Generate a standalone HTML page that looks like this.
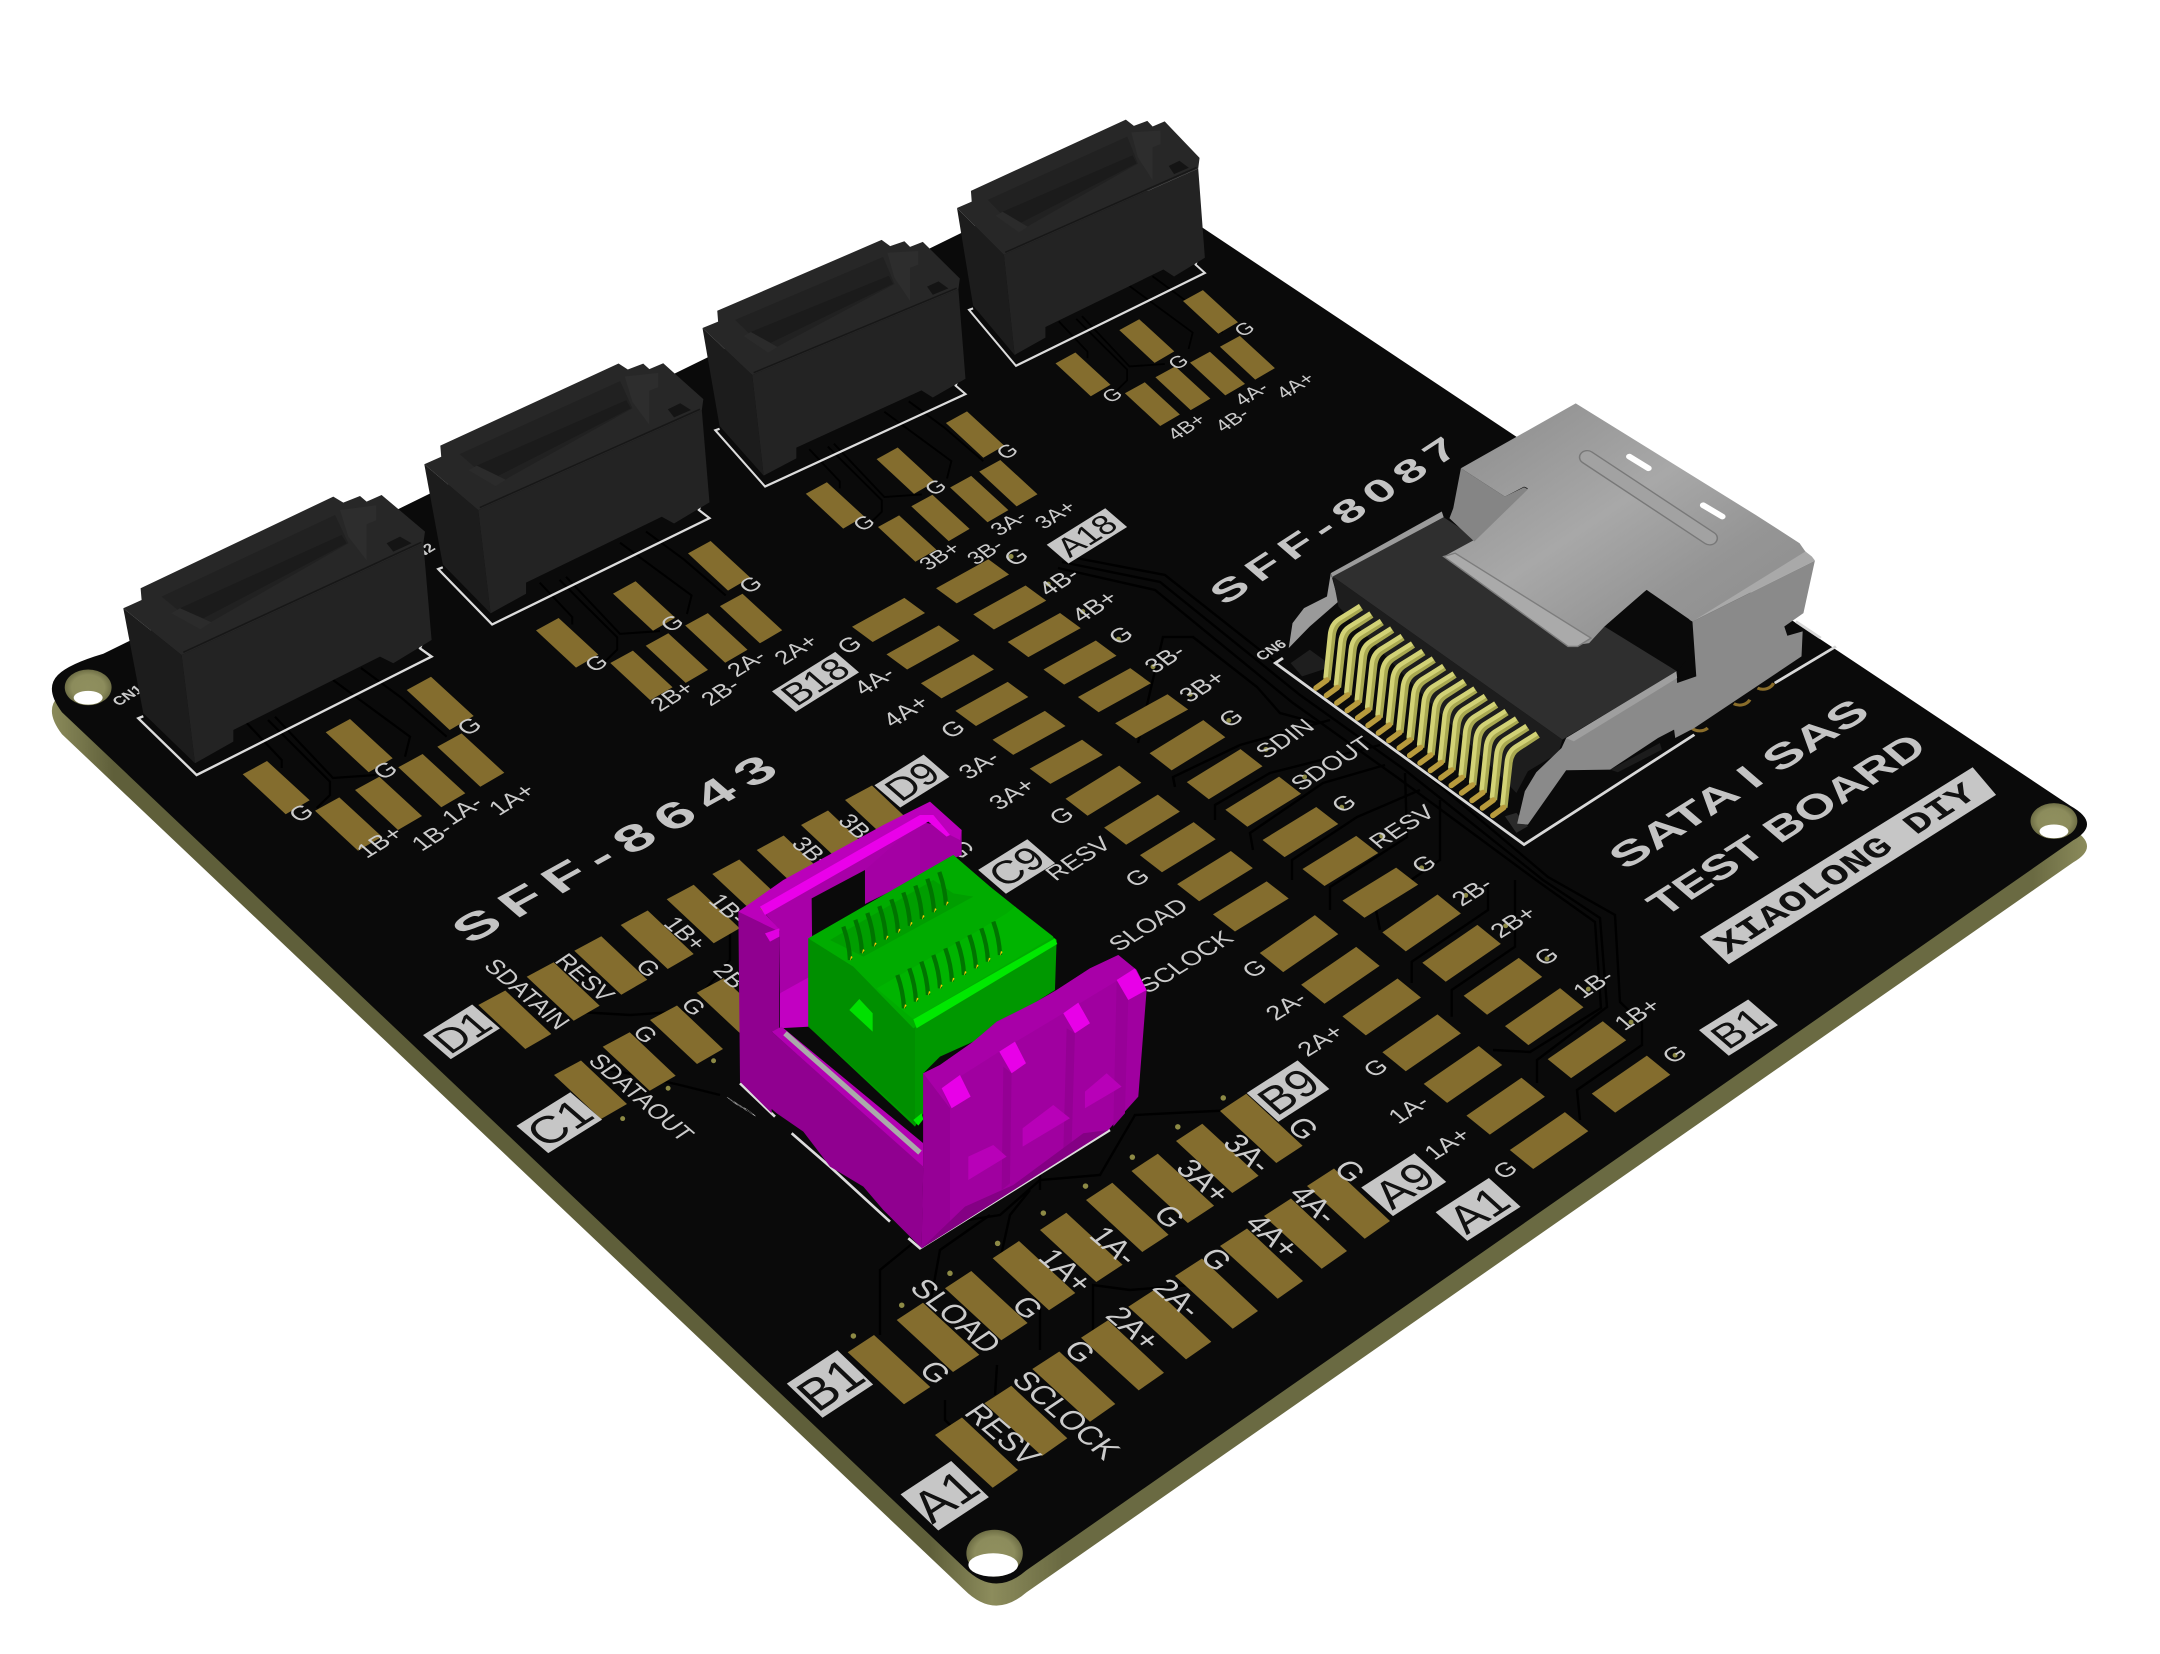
<!DOCTYPE html>
<html><head><meta charset="utf-8"><style>
html,body{margin:0;padding:0;background:#fff}
svg{display:block}
text{font-family:"Liberation Sans",sans-serif;fill:#cbcbcb}
.m{text-anchor:middle}
.t{font-weight:bold;fill:#c4c4c4}
.p{fill:#111;text-anchor:middle}
</style></head><body>
<svg xmlns="http://www.w3.org/2000/svg" width="2160" height="1654" viewBox="0 0 2160 1654">
<defs>
<linearGradient id="edge" gradientUnits="userSpaceOnUse" x1="38" y1="0" x2="1520" y2="0">
<stop offset="0" stop-color="#8a8a5a"/><stop offset=".03" stop-color="#5f5f3a"/><stop offset=".43" stop-color="#5f5f3a"/><stop offset=".46" stop-color="#8c8c5c"/><stop offset=".495" stop-color="#6a6a42"/><stop offset=".97" stop-color="#6a6a42"/><stop offset="1" stop-color="#8f8f5e"/>
</linearGradient>
<linearGradient id="sh" x1="0" y1="0" x2="1" y2="1"><stop offset="0" stop-color="#8a8a8a"/><stop offset=".45" stop-color="#a8a8a8"/><stop offset=".7" stop-color="#959595"/><stop offset="1" stop-color="#8c8c8c"/></linearGradient>
<radialGradient id="hole"><stop offset="0" stop-color="#8f8f5e"/><stop offset=".7" stop-color="#8c8c5c"/><stop offset="1" stop-color="#6e6e45"/></radialGradient>
<polygon id="a1" points="0,0 24.3,-13.3 67,26 43,40"/>
<polygon id="a2" points="0,0 22.6,-12.4 62.3,24.2 40,37.2"/>
<polygon id="a3" points="0,0 21.1,-11.6 58.3,22.6 37.4,34.8"/>
<polygon id="a4" points="0,0 19.9,-10.9 55,21.3 35.3,32.8"/>
<polygon id="s1" points="-26.5,5 11.5,-16 26.5,-5 -11.5,16"/>
<polygon id="s2" points="-27.5,5.8 11.5,-18.2 27.5,-5.8 -11.5,18.2"/>
<polygon id="s3" points="-28.5,6.85 11.5,-20.65 28.5,-6.85 -11.5,20.65"/>
<polygon id="d" points="0,0 27,-14.5 73,29 47,44"/>
<polygon id="b" points="0,0 26.3,-17.3 82.6,34.7 56.3,52"/>
<polygon id="c" points="0,0 27,-17.5 83,35 57.7,52.7"/>
<g id="sata">
<polyline points="15,110 20,108 15,110 73.3,166.7 308.3,48.3 296.7,40 300,32" fill="none" stroke="#dcdcdc" stroke-width="2.4"/>
<polygon points="0,0 58.3,46.7 71.7,155 20,105" fill="#1c1c1c"/>
<polygon points="58.3,46.7 300,-65 308.3,31.7 270,55 256.7,48.3 110,121.7 110,133.3 71.7,155" fill="#232323"/>
<polygon points="0,0 18.3,-8.3 17.3,-20 210,-111.7 220,-105.7 236.7,-112.3 243.3,-106.7 258.3,-113.3 301.7,-76.7 300,-65 58.3,46.7" fill="#272727"/>
<polygon points="38.3,-11.7 211.7,-93.3 225,-65 76.7,20" fill="#212121"/>
<polygon points="56.7,0 218.3,-73.3 223.3,-65 80,10" fill="#1b1b1b"/>
<polygon points="216.7,-98.3 253,-103 253,-88 243.3,-84 243.3,-48 225,-71.7" fill="#2d2d2d"/>
<polygon points="263.3,-65 276.7,-71.7 288.3,-65 270,-56.7" fill="#141414"/>
<polygon points="48,5 56.7,0 88,14 77,21" fill="#2b2b2b"/>
<polyline points="60,44 298,-66" fill="none" stroke="#171717" stroke-width="1.6"/>
</g>
<g id="tr" fill="none" stroke="#000" stroke-width="2.2">
<path d="M246.7,723 L281.7,760 L281.7,768"/><path d="M268,720 L330,781.7 L330,795 L316.7,808"/><path d="M275,716.7 L333,778 L376,775"/><path d="M361,668 L401.7,698 L446.7,736.7"/><path d="M333,680 L410,736.7 L405,756.7"/>
</g>
<g id="pin2">
<path d="M1361,607 L1341,620 Q1333,625 1332,636 L1327,680" fill="none" stroke="#a8a850" stroke-width="7.5"/>
<path d="M1360,606 L1339,619 Q1331,624 1330,635 L1325.5,678" fill="none" stroke="#d2d276" stroke-width="4.5"/>
<path d="M1327,680 L1316,688" fill="none" stroke="#b79a3c" stroke-width="5.5" stroke-linecap="round"/>
</g>
<g id="cb"><path d="M0,0 Q18,50 20,100" fill="none" stroke="#007400" stroke-width="13"/><path d="M20,102 l3,-14 l5,3z" fill="#ffcc00"/></g>
</defs>

<g transform="scale(1.37755)">
<path d="M75,490.6 L802,134 L1503,601 Q1526,614 1505,626 L745,1156 Q722,1176 700,1154 L45,533 Q32,516 42,506 Q50,498 75,490.6Z" fill="url(#edge)"/>
<path d="M75,474.6 L802,118 L1503,585 Q1526,598 1505,610 L745,1140 Q722,1160 700,1138 L45,517 Q32,500 42,490 Q50,482 75,474.6Z" fill="#0a0a0a"/>
</g>

<g fill="none" stroke="#000" stroke-width="2.4">
<path d="M1062,562 L1160,582 L1300,695 L1405,770 L1543,880 L1600,918 L1607,1007 L1537,1060 L1537,1083"/>
<path d="M1058,568 L1155,590 L1293,703 L1398,778 L1536,880 L1595,922 L1601,1008 L1530,1052 L1493,1050"/>
<path d="M1066,556 L1165,575 L1308,688 L1412,762 L1548,877 L1615,915 L1620,1002 L1642,1023 L1642,1045 L1577,1090 L1580,1120"/>
<path d="M1515,880 L1515,946.7 L1451.7,990 L1451.7,1016.7"/>
<path d="M1488,880 L1488,910 L1411.7,961.7 L1411.7,983"/>
<path d="M1138,743 L1163,637 L1193,637 L1257,687 L1280,713 L1317,723"/>
<path d="M1175,787 L1173,777 L1240,745 L1330,720"/>
<path d="M1215,820 L1215,805 L1270,773 L1380,745"/>
<path d="M1253,850 L1250,833 L1323,783 L1385,765"/>
<path d="M1292,880 L1292,860 L1357,817 L1420,790"/>
<path d="M1330,910 L1330,887 L1407,837 L1405,773"/>
<path d="M1380,930 L1375,905 L1440,860 L1440,800"/>
<path d="M1040,1160 L1040,1190"/>
<path d="M880,1335 L880,1270 L935,1225 L1000,1215 L1040,1180 L1100,1175 L1135,1115 L1235,1110 L1290,1115"/>
<path d="M930,1305 L940,1250 L990,1215"/>
<path d="M1000,1260 L1010,1215 L1030,1190"/>
<path d="M945,1400 L945,1420 L955,1430"/>
<path d="M995,1395 L997,1365"/>
<path d="M1040,1350 L1040,1310 L1030,1280"/>
<path d="M1093,1330 L1093,1285 L1130,1290 L1190,1285"/>
<path d="M590,1065 L680,1085 L720,1095"/>
<path d="M545,1010 L630,1015 L700,1010"/>
<path d="M730,920 L730,960 L705,990"/>
</g>
<use href="#tr"/>
<use href="#tr" transform="translate(536 630.4) scale(.93) translate(-242.7 -774.3)"/>
<use href="#tr" transform="translate(805.8 493.8) scale(.87) translate(-242.7 -774.3)"/>
<use href="#tr" transform="translate(1055.5 363.4) scale(.82) translate(-242.7 -774.3)"/>

<g fill="#846d2e">
<use href="#a1" x="242.7" y="774.3"/><use href="#a1" x="325.7" y="732.3"/><use href="#a1" x="406.7" y="690"/><use href="#a1" x="315" y="810.7"/><use href="#a1" x="355" y="790"/><use href="#a1" x="398.3" y="767.3"/><use href="#a1" x="437.3" y="746.7"/>
<use href="#a2" x="536" y="630.4"/><use href="#a2" x="613" y="593.6"/><use href="#a2" x="688" y="553.4"/><use href="#a2" x="610.3" y="663"/><use href="#a2" x="645.7" y="645.7"/><use href="#a2" x="685.2" y="625.5"/><use href="#a2" x="719.9" y="606.1"/>
<use href="#a3" x="805.8" y="493.8"/><use href="#a3" x="876.6" y="459.1"/><use href="#a3" x="945.9" y="423"/><use href="#a3" x="878" y="527"/><use href="#a3" x="911.3" y="506.3"/><use href="#a3" x="950.1" y="487.5"/><use href="#a3" x="979.2" y="471.6"/>
<use href="#a4" x="1055.5" y="363.4"/><use href="#a4" x="1119.3" y="330.1"/><use href="#a4" x="1183" y="301"/><use href="#a4" x="1124.9" y="393.2"/><use href="#a4" x="1155.4" y="377.3"/><use href="#a4" x="1190" y="362.6"/><use href="#a4" x="1219.9" y="346.8"/>
<use href="#d" x="478.3" y="1005"/><use href="#d" x="526.7" y="976.7"/><use href="#d" x="574.3" y="950.7"/><use href="#d" x="620.7" y="925"/><use href="#d" x="666.7" y="899.3"/><use href="#d" x="712.3" y="874"/><use href="#d" x="756.7" y="850"/><use href="#d" x="801" y="825"/><use href="#d" x="845" y="800"/>
<use href="#d" x="554" y="1075"/><use href="#d" x="602.7" y="1046.7"/><use href="#d" x="650" y="1020"/><use href="#d" x="696.7" y="992.7"/>
<use href="#b" x="847.7" y="1352.3"/><use href="#b" x="896.7" y="1320"/><use href="#b" x="945" y="1288.3"/><use href="#b" x="992.7" y="1258.3"/><use href="#b" x="1040" y="1230"/><use href="#b" x="1086" y="1200"/><use href="#b" x="1131.5" y="1171"/><use href="#b" x="1176" y="1141"/><use href="#b" x="1220" y="1111"/>
<use href="#c" x="935" y="1435"/><use href="#c" x="984.3" y="1403.3"/><use href="#c" x="1032.3" y="1369"/><use href="#c" x="1081" y="1337.7"/><use href="#c" x="1128.3" y="1306.7"/><use href="#c" x="1175" y="1276"/><use href="#c" x="1220" y="1246"/><use href="#c" x="1264" y="1216"/><use href="#c" x="1307" y="1186"/>
</g>

<g transform="scale(1.37755)">
<g fill="#846d2e">
<use href="#s1" x="645" y="450"/><use href="#s1" x="670" y="470"/><use href="#s1" x="695" y="491"/><use href="#s1" x="720" y="511"/><use href="#s1" x="747" y="532"/><use href="#s1" x="774" y="553"/><use href="#s2" x="801" y="574"/><use href="#s2" x="829" y="595"/><use href="#s2" x="855" y="615"/><use href="#s2" x="882" y="636"/><use href="#s2" x="908" y="658"/><use href="#s3" x="943" y="685"/><use href="#s3" x="973" y="708"/><use href="#s3" x="1003" y="731"/><use href="#s3" x="1032" y="757"/><use href="#s3" x="1062" y="780"/><use href="#s3" x="1093" y="803"/><use href="#s3" x="1124.5" y="828"/>
<use href="#s1" x="706" y="422"/><use href="#s1" x="733" y="441"/><use href="#s1" x="758" y="461"/><use href="#s1" x="784" y="481"/><use href="#s1" x="809" y="501"/><use href="#s1" x="836" y="520"/><use href="#s2" x="862" y="541"/><use href="#s2" x="889" y="562"/><use href="#s2" x="917" y="582"/><use href="#s2" x="944" y="604"/><use href="#s2" x="973" y="625"/><use href="#s2" x="1002" y="648"/><use href="#s3" x="1032" y="670"/><use href="#s3" x="1061" y="692"/><use href="#s3" x="1091" y="716"/><use href="#s3" x="1121" y="738"/><use href="#s3" x="1152" y="762"/><use href="#s3" x="1184" y="787"/>
</g>
<g fill="#8d8a45">
<circle cx="619.5" cy="969.8" r="2"/><circle cx="654.6" cy="947.5" r="2"/><circle cx="689.6" cy="924.3" r="2"/><circle cx="724.2" cy="902.6" r="2"/><circle cx="757.4" cy="880.6" r="2"/><circle cx="788" cy="861" r="2"/><circle cx="822" cy="840" r="2"/><circle cx="855" cy="818" r="2"/><circle cx="888" cy="797" r="2"/>
<circle cx="734" cy="404" r="1.8"/><circle cx="761" cy="424" r="1.8"/><circle cx="786" cy="444" r="1.8"/><circle cx="812" cy="464" r="1.8"/><circle cx="837" cy="484" r="1.8"/><circle cx="864" cy="504" r="1.8"/><circle cx="892" cy="523" r="1.8"/><circle cx="919" cy="544" r="1.8"/><circle cx="947" cy="564" r="1.8"/><circle cx="974" cy="586" r="1.8"/><circle cx="1003" cy="607" r="1.8"/><circle cx="1032" cy="630" r="1.8"/><circle cx="1064" cy="650" r="1.8"/><circle cx="1093" cy="672" r="1.8"/><circle cx="1123" cy="696" r="1.8"/><circle cx="1153" cy="718" r="1.8"/><circle cx="1184" cy="742" r="1.8"/><circle cx="1216" cy="766" r="1.8"/>
<circle cx="452" cy="812" r="1.8"/><circle cx="485" cy="790" r="1.8"/><circle cx="518" cy="770" r="1.8"/>
</g>

<g transform="translate(3 -1)">
<g font-size="18">
<text class="m" transform="matrix(.85 -.53 .72 .62 220 595)">G</text><text class="m" transform="matrix(.85 -.53 .72 .62 281 564)">G</text><text class="m" transform="matrix(.85 -.53 .72 .62 342 532)">G</text>
<text class="m" transform="matrix(.85 -.53 .72 .62 277 616)">1B+</text><text class="m" transform="matrix(.85 -.53 .72 .62 315 612)">1B-</text><text class="m" transform="matrix(.85 -.53 .72 .62 337 593)">1A-</text><text class="m" transform="matrix(.85 -.53 .72 .62 373 585)">1A+</text>
</g>
<g font-size="17">
<text class="m" transform="matrix(.85 -.53 .72 .62 434 486)">G</text><text class="m" transform="matrix(.85 -.53 .72 .62 489 457)">G</text><text class="m" transform="matrix(.85 -.53 .72 .62 546 429)">G</text>
<text class="m" transform="matrix(.85 -.53 .72 .62 489 510)">2B+</text><text class="m" transform="matrix(.85 -.53 .72 .62 524 507)">2B-</text><text class="m" transform="matrix(.85 -.53 .72 .62 543 486)">2A-</text><text class="m" transform="matrix(.85 -.53 .72 .62 579 476)">2A+</text>
</g>
<g font-size="16">
<text class="m" transform="matrix(.85 -.53 .72 .62 628 384)">G</text><text class="m" transform="matrix(.85 -.53 .72 .62 680 358)">G</text><text class="m" transform="matrix(.85 -.53 .72 .62 732 332)">G</text>
<text class="m" transform="matrix(.85 -.53 .72 .62 683 408)">3B+</text><text class="m" transform="matrix(.85 -.53 .72 .62 716 405)">3B-</text><text class="m" transform="matrix(.85 -.53 .72 .62 733 384)">3A-</text><text class="m" transform="matrix(.85 -.53 .72 .62 767 378)">3A+</text>
</g>
<g font-size="15"><text class="m" transform="matrix(.85 -.53 .72 .62 808 291)">G</text><text class="m" transform="matrix(.85 -.53 .72 .62 856 267)">G</text><text class="m" transform="matrix(.85 -.53 .72 .62 904 243)">G</text>
<text class="m" transform="matrix(.85 -.53 .72 .62 862 314)">4B+</text><text class="m" transform="matrix(.85 -.53 .72 .62 895 309)">4B-</text><text class="m" transform="matrix(.85 -.53 .72 .62 909 290)">4A-</text><text class="m" transform="matrix(.85 -.53 .72 .62 941 284)">4A+</text></g>
<g font-size="18">
<text class="m" transform="matrix(.85 -.53 .72 .62 618 473)">G</text><text class="m" transform="matrix(.85 -.53 .72 .62 636 499)">4A-</text><text class="m" transform="matrix(.85 -.53 .72 .62 659 521)">4A+</text><text class="m" transform="matrix(.85 -.53 .72 .62 693 534)">G</text><text class="m" transform="matrix(.85 -.53 .72 .62 712 560)">3A-</text><text class="m" transform="matrix(.85 -.53 .72 .62 736 581)">3A+</text><text class="m" transform="matrix(.85 -.53 .72 .62 772 597)">G</text>
<text class="m" transform="matrix(.85 -.53 .72 .62 784 628)">RESV</text><text class="m" transform="matrix(.85 -.53 .72 .62 827 642)">G</text><text class="m" transform="matrix(.85 -.53 .72 .62 835 676)">SLOAD</text><text class="m" transform="matrix(.85 -.53 .72 .62 862 703)">SCLOCK</text><text class="m" transform="matrix(.85 -.53 .72 .62 912 708)">G</text><text class="m" transform="matrix(.85 -.53 .72 .62 935 735)">2A-</text><text class="m" transform="matrix(.85 -.53 .72 .62 960 760)">2A+</text><text class="m" transform="matrix(.85 -.53 .72 .62 1000 780)">G</text><text class="m" transform="matrix(.85 -.53 .72 .62 1024 810)">1A-</text><text class="m" transform="matrix(.85 -.53 .72 .62 1052 835)">1A+</text><text class="m" transform="matrix(.85 -.53 .72 .62 1094 854)">G</text>
<text class="m" transform="matrix(.85 -.53 .72 .62 739 409)">G</text><text class="m" transform="matrix(.85 -.53 .72 .62 770 427)">4B-</text><text class="m" transform="matrix(.85 -.53 .72 .62 796 445)">4B+</text><text class="m" transform="matrix(.85 -.53 .72 .62 815 466)">G</text><text class="m" transform="matrix(.85 -.53 .72 .62 847 483)">3B-</text><text class="m" transform="matrix(.85 -.53 .72 .62 874 503)">3B+</text><text class="m" transform="matrix(.85 -.53 .72 .62 895 526)">G</text><text class="m" transform="matrix(.85 -.53 .72 .62 934 541)">SDIN</text><text class="m" transform="matrix(.85 -.53 .72 .62 968 559)">SDOUT</text><text class="m" transform="matrix(.85 -.53 .72 .62 977 588)">G</text><text class="m" transform="matrix(.85 -.53 .72 .62 1019 605)">RESV</text><text class="m" transform="matrix(.85 -.53 .72 .62 1035 632)">G</text><text class="m" transform="matrix(.85 -.53 .72 .62 1070 652)">2B-</text><text class="m" transform="matrix(.85 -.53 .72 .62 1100 674)">2B+</text><text class="m" transform="matrix(.85 -.53 .72 .62 1124 699)">G</text><text class="m" transform="matrix(.85 -.53 .72 .62 1158 719)">1B-</text><text class="m" transform="matrix(.85 -.53 .72 .62 1190 741)">1B+</text><text class="m" transform="matrix(.85 -.53 .72 .62 1217 770)">G</text>
</g>
</g>

<g font-size="18" transform="translate(-4.5 3)">
<text class="m" transform="matrix(.72 .62 -.82 .55 382 722)">SDATAIN</text><text class="m" transform="matrix(.72 .62 -.82 .55 424 710)">RESV</text><text class="m" transform="matrix(.72 .62 -.82 .55 470 703)">G</text><text class="m" transform="matrix(.72 .62 -.82 .55 497 678)">1B+</text><text class="m" transform="matrix(.72 .62 -.82 .55 528 660)">1B-</text><text class="m" transform="matrix(.72 .62 -.82 .55 590 620)">3B+</text><text class="m" transform="matrix(.72 .62 -.82 .55 622 602)">3B-</text><text class="m" transform="matrix(.72 .62 -.82 .55 698 617)">G</text>
<text class="m" transform="matrix(.72 .62 -.82 .55 465 797)">SDATAOUT</text><text class="m" transform="matrix(.72 .62 -.82 .55 468 751)">G</text><text class="m" transform="matrix(.72 .62 -.82 .55 503 731)">G</text><text class="m" transform="matrix(.72 .62 -.82 .55 533 712)">2B+</text>
</g>
<g font-size="23" transform="translate(-5.5 3.5)">
<text class="m" transform="matrix(.72 .62 -.82 .55 678 997)">G</text><text class="m" transform="matrix(.72 .62 -.82 .55 693 956)">SLOAD</text><text class="m" transform="matrix(.72 .62 -.82 .55 745 950)">G</text><text class="m" transform="matrix(.72 .62 -.82 .55 773 923)">1A+</text><text class="m" transform="matrix(.72 .62 -.82 .55 808 905)">1A-</text><text class="m" transform="matrix(.72 .62 -.82 .55 848 884)">G</text><text class="m" transform="matrix(.72 .62 -.82 .55 873 858)">3A+</text><text class="m" transform="matrix(.72 .62 -.82 .55 905 838)">3A-</text><text class="m" transform="matrix(.72 .62 -.82 .55 945 820)">G</text>
<text class="m" transform="matrix(.72 .62 -.82 .55 727 1042)">RESV</text><text class="m" transform="matrix(.72 .62 -.82 .55 773 1028)">SCLOCK</text><text class="m" transform="matrix(.72 .62 -.82 .55 783 982)">G</text><text class="m" transform="matrix(.72 .62 -.82 .55 822 965)">2A+</text><text class="m" transform="matrix(.72 .62 -.82 .55 854 943)">2A-</text><text class="m" transform="matrix(.72 .62 -.82 .55 882 915)">G</text><text class="m" transform="matrix(.72 .62 -.82 .55 923 898)">4A+</text><text class="m" transform="matrix(.72 .62 -.82 .55 953 875)">4A-</text><text class="m" transform="matrix(.72 .62 -.82 .55 979 851)">G</text>
</g>

<g transform="matrix(.85 -.53 .72 .62 592 495)"><rect x="-27" y="-12" width="54" height="24" fill="#c6c6c6"/><text class="p" y="9" font-size="27">B18</text></g>
<g transform="matrix(.85 -.53 .72 .62 789 389)"><rect x="-25" y="-11" width="50" height="22" fill="#c6c6c6"/><text class="p" y="8" font-size="24">A18</text></g>
<g transform="matrix(.85 -.53 .72 .62 738 629)"><rect x="-21" y="-14" width="42" height="28" fill="#c6c6c6"/><text class="p" y="10" font-size="29">C9</text></g>
<g transform="matrix(.85 -.53 .72 .62 662 567)"><rect x="-21" y="-13" width="42" height="26" fill="#c6c6c6"/><text class="p" y="10" font-size="28">D9</text></g>
<g transform="matrix(.85 -.53 .72 .62 335 749)"><rect x="-21" y="-14" width="42" height="28" fill="#c6c6c6"/><text class="p" y="11" font-size="30">D1</text></g>
<g transform="matrix(.85 -.53 .72 .62 406 815)"><rect x="-23" y="-16" width="46" height="32" fill="#c6c6c6"/><text class="p" y="12" font-size="34">C1</text></g>
<g transform="matrix(.84 -.54 .72 .65 935 792)"><rect x="-22" y="-16" width="44" height="32" fill="#c6c6c6"/><text class="p" y="12" font-size="33">B9</text></g>
<g transform="matrix(.84 -.54 .72 .65 1019 860)"><rect x="-23" y="-16" width="46" height="32" fill="#c6c6c6"/><text class="p" y="12" font-size="33">A9</text></g>
<g transform="matrix(.84 -.54 .72 .65 1073 878)"><rect x="-23" y="-16" width="46" height="32" fill="#c6c6c6"/><text class="p" y="12" font-size="33">A1</text></g>
<g transform="matrix(.85 -.53 .72 .62 1262 746)"><rect x="-21" y="-15" width="42" height="30" fill="#c6c6c6"/><text class="p" y="11" font-size="30">B1</text></g>
<g transform="matrix(.835 -.55 .72 .69 602.5 1004.7)"><rect x="-22" y="-18" width="44" height="36" fill="#c6c6c6"/><text class="p" y="13" font-size="36">B1</text></g>
<g transform="matrix(.835 -.55 .72 .69 685.8 1085.8)"><rect x="-22" y="-19" width="44" height="38" fill="#c6c6c6"/><text class="p" y="13" font-size="36">A1</text></g>

<text class="t" font-size="33" textLength="190" transform="matrix(1.19 -.66 .72 .62 341 686)">SFF-8643</text>
<text class="t" font-size="27" textLength="152" transform="matrix(1.13 -.74 .72 .62 889 440)">SFF-8087</text>
<text class="t" font-size="30" textLength="212" lengthAdjust="spacingAndGlyphs" transform="matrix(.845 -.535 .72 .62 1180 632)">SATA I SAS</text>
<text class="t" font-size="30" textLength="228" lengthAdjust="spacingAndGlyphs" transform="matrix(.845 -.535 .72 .62 1208 666)">TEST BOARD</text>
<polygon points="1234,680 1432,557 1449,577 1255,700" fill="#c6c6c6"/>
<text font-size="25" font-weight="bold" textLength="216" lengthAdjust="spacingAndGlyphs" style="font-family:'Liberation Mono',monospace;fill:#111" transform="matrix(.845 -.535 .72 .62 1254 693)">XIAOLONG DIY</text>

<g font-size="11" font-weight="bold"><text transform="matrix(.85 -.53 .72 .62 86 513)">CN1</text><text transform="matrix(.85 -.53 .72 .62 298 410)">CN2</text><text transform="matrix(-.85 -.53 -.72 -.62 545 807)">CN5</text><text transform="matrix(.85 -.53 .72 .62 916 480)">CN6</text></g>

<ellipse cx="64" cy="499" rx="17" ry="13" fill="url(#hole)"/><ellipse cx="64" cy="506.5" rx="10.5" ry="5" fill="#fff"/>
<ellipse cx="1491" cy="596" rx="17" ry="13" fill="url(#hole)"/><ellipse cx="1491" cy="603.5" rx="10.5" ry="5" fill="#fff"/>
<ellipse cx="722" cy="1127.5" rx="20.5" ry="17" fill="url(#hole)"/><ellipse cx="721" cy="1136" rx="18" ry="8.5" fill="#fff"/>
</g>

<use href="#sata" transform="translate(123.3 608.3)"/>
<use href="#sata" transform="matrix(.925 .026 0 .95 424.3 464.2)"/>
<use href="#sata" transform="matrix(.853 .07 0 .92 702.5 328)"/>
<use href="#sata" transform="matrix(.804 .067 0 .917 957 208)"/>

<!-- SFF-8087 -->
<g transform="translate(1260 400) scale(.3827 .333)">
<polyline points="60,775 40,790 690,1335 1135,1005" fill="none" stroke="#d8d8d8" stroke-width="8"/>
<polyline points="1345,850 1505,740" fill="none" stroke="#d8d8d8" stroke-width="8"/>
<polyline points="1400,665 1465,715" fill="none" stroke="#d8d8d8" stroke-width="8"/>
<path d="M1128,985 a30,30 0 0 0 42,0M1238,912 a30,30 0 0 0 42,-12M1300,865 a30,30 0 0 0 42,-15" fill="none" stroke="#8a6d2a" stroke-width="9"/>
<polygon points="80,790 130,750 190,800 110,830" fill="#1e1e1e"/>
<polygon points="640,1250 670,1240 700,1280 670,1300" fill="#2a2a2a"/>
<polygon points="915,1110 1045,1030 1050,1050 935,1118" fill="#1c1c1c"/>
<polygon points="185,520 475,335 480,352 190,535" fill="#9b9b9b"/>
<polygon points="185,520 205,605 130,680 75,745 85,670 115,625 175,590" fill="#9a9a9a"/>
<polygon points="190,530 480,352 1090,815 790,1020" fill="#2f2f2f"/>
<polygon points="190,530 790,1020 780,1060 700,1115 670,1180 205,620" fill="#1d1d1d"/>
<polygon points="800,1015 1088,815 1090,850 1140,830 1130,665 1450,482 1420,640 1370,680 1378,708 1418,695 1415,770 1135,985 1085,1015 1082,990 1040,1015 915,1110 800,1112 700,1275 672,1272 692,1175 722,1118 788,1045" fill="#8a8a8a"/>
<polygon points="1130,665 1450,482 1442,470 1420,450 1122,660" fill="#a9a9a9"/>
<polygon points="800,1015 1088,815 1090,835 820,1025" fill="#9f9f9f"/>
<polygon points="900,680 1010,575 1128,672 1115,780 1090,815" fill="#0a0a0a"/>
<polygon points="525,205 825,10 1295,345 1410,430 1425,455 1130,665 1010,570 1050,535 1005,575 900,680 860,730 805,740 480,470 560,420 700,265 690,260 640,290" fill="url(#sh)"/>
<polygon points="525,205 640,290 690,262 700,268 560,425 495,355 505,325" fill="#858585"/>
<polygon points="480,470 510,460 865,715 830,740 805,740" fill="#aaaaaa" stroke="#7d7d7d" stroke-width="4"/>
<line x1="855" y1="172" x2="1175" y2="415" stroke="#787878" stroke-width="44" stroke-linecap="round"/>
<line x1="855" y1="172" x2="1175" y2="415" stroke="#a2a2a2" stroke-width="36" stroke-linecap="round"/>
<line x1="965" y1="170" x2="1015" y2="205" stroke="#fff" stroke-width="17" stroke-linecap="round"/>
<line x1="1158" y1="316" x2="1208" y2="350" stroke="#fff" stroke-width="17" stroke-linecap="round"/>
</g>
<use href="#pin2"/><use href="#pin2" x="10.4" y="7.5"/><use href="#pin2" x="20.8" y="15"/><use href="#pin2" x="31.2" y="22.5"/><use href="#pin2" x="41.6" y="30"/><use href="#pin2" x="52" y="37.5"/><use href="#pin2" x="62.4" y="45"/><use href="#pin2" x="72.8" y="52.5"/><use href="#pin2" x="83.2" y="60"/><use href="#pin2" x="93.6" y="67.5"/><use href="#pin2" x="104" y="75"/><use href="#pin2" x="114.4" y="82.5"/><use href="#pin2" x="124.8" y="90"/><use href="#pin2" x="135.2" y="97.5"/><use href="#pin2" x="145.6" y="105"/><use href="#pin2" x="156" y="112.5"/><use href="#pin2" x="166.4" y="120"/><use href="#pin2" x="176.8" y="127.5"/>

<!-- CN5 magenta + green -->
<g transform="translate(720 780) scale(.3333)">
<g fill="none" stroke="#dcdcdc" stroke-width="8">
<path d="M60,910 L165,1010"/><path d="M215,1060 L330,1160 L510,1325"/><path d="M565,1375 L600,1405 L1170,1050"/>
</g>
<polygon points="600,125 725,150 725,225 690,240 600,285" fill="#a000a0"/>
<polygon points="135,400 600,125 600,285 435,370 435,270 275,355 278,640 180,640 178,450" fill="#a800a8"/>
<polygon points="435,270 435,372 520,330 600,285 600,125" fill="#a400a4"/>
<polygon points="55,395 190,300 490,135 630,65 725,150 720,180 690,165 620,105 130,385 120,385 180,450 150,480" fill="#bb00bb"/>
<polygon points="120,380 600,105 640,105 690,165 680,170 625,125 135,405" fill="#ea00ea"/>
<polygon points="55,395 178,455 178,745 155,755 155,1000 60,905" fill="#900090"/>
<polygon points="135,460 178,445 178,470 150,485" fill="#e000e0"/>
<polygon points="180,640 270,590 270,740 180,745" fill="#c200c2"/>
<polygon points="265,475 700,225 810,320 885,380 1010,480 1005,630 950,665 830,740 760,785 660,830 610,880 610,1000 585,1040 265,740" fill="#009800"/>
<polygon points="265,475 400,560 585,745 585,1030 265,740" fill="#008f00"/>
<polygon points="265,475 700,225 810,320 885,380 1010,480 580,745 400,560" fill="#00ac00"/>
<polygon points="580,718 1005,475 1012,492 590,745" fill="#00e800"/>
<polygon points="470,625 760,460 860,400 885,380 1000,470 580,718" fill="#00b400"/>
<polygon points="330,480 640,300 700,340 760,350 430,530" fill="#009e00"/>
<polygon points="388,690 418,657 458,700 458,755" fill="#00e000"/>
<polygon points="580,1020 605,1000 610,1018 595,1037" fill="#00e800"/>
<use href="#cb" x="370" y="440"/><use href="#cb" x="406" y="419.5"/><use href="#cb" x="442" y="399"/><use href="#cb" x="478" y="378.5"/><use href="#cb" x="514" y="358"/><use href="#cb" x="550" y="337.5"/><use href="#cb" x="586" y="317"/><use href="#cb" x="622" y="296.5"/><use href="#cb" x="658" y="276"/>
<use href="#cb" x="532" y="585"/><use href="#cb" x="568" y="565"/><use href="#cb" x="604" y="545"/><use href="#cb" x="640" y="525"/><use href="#cb" x="676" y="505"/><use href="#cb" x="712" y="485"/><use href="#cb" x="748" y="465"/><use href="#cb" x="784" y="445"/><use href="#cb" x="820" y="425"/>
<polygon points="155,755 185,740 610,1090 610,1165" fill="#b200b2"/>
<line x1="195" y1="760" x2="600" y2="1118" stroke="#aaa" stroke-width="16"/>
<polygon points="60,720 155,755 610,1160 605,1405 490,1290 430,1220 330,1160 250,1055 170,1000 60,905" fill="#900090"/>
<polygon points="610,880 660,855 760,785 830,725 950,665 1010,630 1110,565 1195,525 1250,570 1280,630 1255,950 1165,1050 605,1405 610,1160" fill="#a000a0"/>
<polygon points="610,880 660,855 760,785 835,725 950,665 1010,630 1110,565 1195,525 1250,570 1195,600 1030,700 838,815 665,925 690,985 610,1090" fill="#a800a8"/>
<polygon points="610,880 690,985 690,1340 605,1405 610,1160" fill="#960096"/>
<polygon points="850,860 875,880 870,1210 845,1230" fill="#940094"/>
<polygon points="1040,745 1065,760 1055,1100 1030,1115" fill="#940094"/>
<polygon points="1190,600 1225,660 1215,1000 1180,1040" fill="#980098"/>
<g fill="#e800e8"><polygon points="665,925 720,885 752,950 695,985"/><polygon points="838,815 885,785 918,850 875,880"/><polygon points="1030,700 1075,668 1110,730 1065,760"/><polygon points="1190,600 1245,565 1280,630 1225,660"/></g>
<g fill="#b800b8"><polygon points="745,1130 820,1095 860,1130 745,1200"/><polygon points="908,1045 1000,975 1050,1015 908,1100"/><polygon points="1095,935 1160,880 1205,920 1095,985"/></g>
<polygon points="605,1405 735,1280 880,1215 1090,1060 1165,1050" fill="#840084"/>
</g>
</svg>
</body></html>
